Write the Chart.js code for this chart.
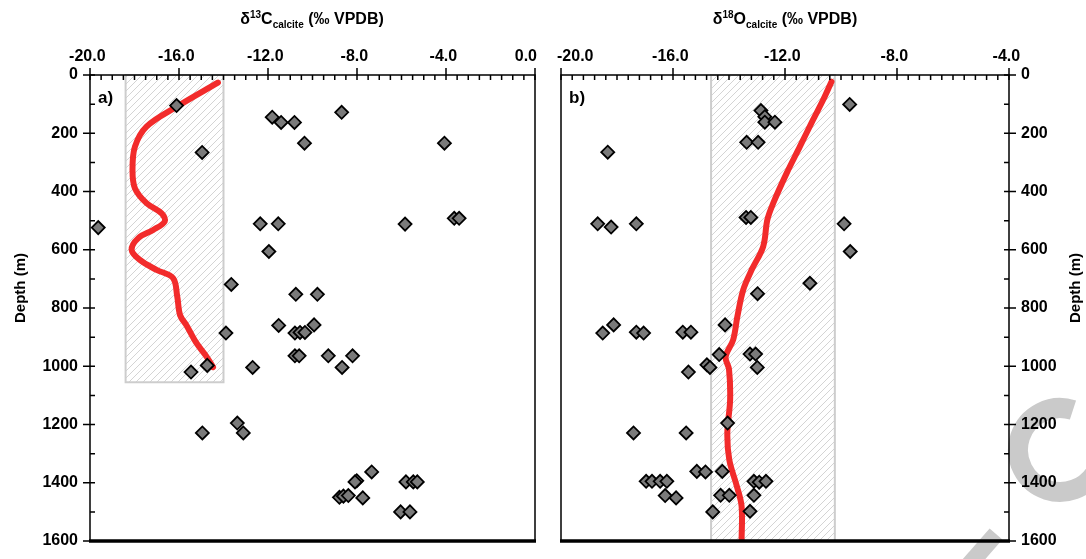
<!DOCTYPE html>
<html>
<head>
<meta charset="utf-8">
<script src="https://cdn.jsdelivr.net/npm/chart.js@4.4.1/dist/chart.umd.min.js"></script>
<style>
  body { margin: 0; background: #fff; width: 1086px; height: 559px; overflow: hidden; position: relative;
         font-family: "Liberation Sans", Arial, sans-serif; }
  canvas { position: absolute; top: 0; }
  .ttl { position: absolute; font-weight: bold; font-size: 16px; line-height: 16px; text-align: center; white-space: nowrap; color: #000; }
  .ttl sup, .ttl sub { font-size: 10px; line-height: 0; }
  .ttl sub { vertical-align: -4px; }
  .ytl { transform: rotate(-90deg); transform-origin: 50% 50%; font-size: 15px; }
</style>
</head>
<body>
<canvas id="chartC" width="548" height="559" style="left:0"></canvas>
<canvas id="chartO" width="538" height="559" style="left:548px"></canvas>
<div class="ttl" style="left:212px; top:11px; width:200px">δ<sup>13</sup>C<sub>calcite</sub> (‰ VPDB)</div>
<div class="ttl" style="left:685px; top:11px; width:200px">δ<sup>18</sup>O<sub>calcite</sub> (‰ VPDB)</div>
<div class="ttl ytl" style="left:-40px; top:280px; width:120px">Depth (m)</div>
<div class="ttl ytl" style="left:1015px; top:280px; width:120px">Depth (m)</div>
<script>
// panel a) - d13C of calcite vs depth
const c13Values = [-16.11, -8.69, -11.81, -11.41, -10.81, -10.36, -4.07, -14.96, -19.63, -12.35,
                   -11.54, -5.84, -3.63, -3.41, -11.96, -13.65, -10.75, -9.78, -11.52, -13.89,
                   -10.79, -10.56, -10.34, -9.93, -10.79, -10.6, -9.29, -8.2, -8.67, -12.69,
                   -14.73, -15.46, -13.38, -13.11, -14.95, -7.34, -8.01, -8.09, -5.8, -5.47,
                   -5.29, -8.79, -8.61, -8.39, -7.74, -6.04, -5.62];
const c13Depths = [105, 128, 145, 163, 163, 234, 234, 266, 524, 511,
                   511, 512, 492, 492, 606, 719, 753, 753, 860, 886,
                   886, 884, 884, 858, 964, 964, 964, 964, 1004, 1004,
                   997, 1020, 1195, 1229, 1229, 1363, 1393, 1397, 1397, 1397,
                   1397, 1450, 1446, 1444, 1452, 1500, 1500];
const c13TrendValues = [-14.25, -16.11, -17.46, -17.98, -18.09, -17.98, -17.46, -16.78, -16.64, -17.16,
                        -17.83, -18.13, -17.76, -17.01, -16.27, -16.08, -15.95, -15.66, -15.22, -14.77, -14.47];
const c13TrendDepths = [26, 109, 177, 246, 326, 389, 440, 475, 503, 532,
                        560, 600, 635, 669, 697, 760, 825, 860, 920, 966, 1003];
const c13Band = [-18.4, -14.0];
const c13BandDepth = [0, 1055];
const c13Ticks = [-20, -16, -12, -8, -4, 0];

// panel b) - d18O of calcite vs depth
const o18Values = [-9.69, -12.86, -12.72, -12.72, -12.36, -13.37, -12.96, -18.33, -18.69, -18.21,
                   -17.31, -13.39, -13.22, -9.89, -9.67, -11.11, -12.98, -18.12, -18.51, -17.31,
                   -17.05, -15.65, -15.36, -14.14, -14.35, -13.25, -13.05, -12.99, -14.79, -14.68,
                   -15.45, -17.41, -15.53, -14.05, -15.15, -14.84, -14.24, -16.96, -16.75, -16.46,
                   -16.22, -13.11, -12.92, -12.68, -16.28, -15.89, -14.3, -13.99, -13.11, -14.58, -13.25];
const o18Depths = [101, 122, 143, 162, 162, 231, 231, 265, 511, 522,
                   511, 489, 489, 511, 606, 715, 751, 858, 886, 883,
                   886, 883, 883, 858, 960, 958, 958, 1004, 995, 1004,
                   1020, 1229, 1229, 1195, 1361, 1363, 1361, 1395, 1395, 1395,
                   1395, 1395, 1398, 1395, 1444, 1452, 1443, 1443, 1443, 1500, 1498];
const o18TrendValues = [-10.34, -10.64, -11.0, -11.47, -11.94, -12.42, -12.63, -12.78, -13.19, -13.49,
                        -13.7, -13.85, -14.12, -14.0, -13.96, -14.06, -13.99, -13.72, -13.55, -13.55];
const o18TrendDepths = [23, 86, 154, 246, 337, 440, 497, 589, 669, 737,
                        829, 909, 968, 1010, 1115, 1229, 1321, 1412, 1481, 1600];
const o18Band = [-14.64, -10.22];
const o18BandDepth = [0, 1600];
const o18Ticks = [-20, -16, -12, -8, -4];

const depthTicks = [0, 200, 400, 600, 800, 1000, 1200, 1400, 1600];

const FONT = '"Liberation Sans", Arial, sans-serif';
const toPoints = (xs, ys) => xs.map((x, i) => ({ x: x, y: ys[i] }));

function hatchPattern(ctx) {
    const tile = document.createElement('canvas');
    tile.width = 7;
    tile.height = 7;
    const t = tile.getContext('2d');
    t.strokeStyle = '#d4d4d4';
    t.lineWidth = 1;
    t.beginPath();
    t.moveTo(0, 7); t.lineTo(7, 0);
    t.moveTo(-1, 1); t.lineTo(1, -1);
    t.moveTo(6, 8); t.lineTo(8, 6);
    t.stroke();
    return ctx.createPattern(tile, 'repeat');
}

// band, frame, tick marks, x labels and panel letter
const panelPlugin = {
    id: 'panel',
    beforeDatasetsDraw(chart, args, o) {
        const { ctx, scales: { x, y } } = chart;
        const x1 = x.getPixelForValue(o.band[0]), x2 = x.getPixelForValue(o.band[1]);
        const y1 = y.getPixelForValue(o.bandDepth[0]), y2 = y.getPixelForValue(o.bandDepth[1]);
        ctx.save();
        ctx.fillStyle = hatchPattern(ctx);
        ctx.fillRect(x1, y1, x2 - x1, y2 - y1);
        ctx.strokeStyle = '#cdcdcd';
        ctx.lineWidth = 2;
        ctx.strokeRect(x1, y1, x2 - x1, y2 - y1);
        ctx.restore();
    },
    afterDatasetsDraw(chart, args, o) {
        const { ctx, chartArea: a, scales: { x, y } } = chart;
        ctx.save();
        ctx.strokeStyle = '#000';
        ctx.lineWidth = 1.5;
        ctx.beginPath();
        ctx.moveTo(a.left, a.bottom); ctx.lineTo(a.left, a.top);
        ctx.lineTo(a.right, a.top); ctx.lineTo(a.right, a.bottom);
        ctx.stroke();
        ctx.lineWidth = 3.5;
        ctx.beginPath();
        ctx.moveTo(a.left - 1, a.bottom); ctx.lineTo(a.right + 1, a.bottom);
        ctx.stroke();

        // tick marks
        ctx.lineWidth = 1.5;
        ctx.beginPath();
        const n = Math.round((x.max - x.min) / o.minorStep);
        for (let i = 0; i <= n; i++) {
            const v = x.min + i * o.minorStep;
            const px = x.getPixelForValue(v);
            const major = o.xTicks.some(t => Math.abs(t - v) < 1e-6);
            ctx.moveTo(px, major ? a.top - 7 : a.top);
            ctx.lineTo(px, a.top + 5);
        }
        const ax = o.side === 'left' ? a.left : a.right;
        const dir = o.side === 'left' ? 1 : -1;
        for (let d = 0; d <= 1600; d += 100) {
            const py = y.getPixelForValue(d);
            const major = d % 200 === 0;
            ctx.moveTo(major ? ax - 7 * dir : ax, py);
            ctx.lineTo(ax + 5 * dir, py);
        }
        ctx.stroke();

        // x labels: number centred on the tick, minus sign hangs to the left
        ctx.font = 'bold 16px ' + FONT;
        ctx.fillStyle = '#000';
        ctx.textBaseline = 'alphabetic';
        o.xTicks.forEach((v, i) => {
            const txt = v.toFixed(1);
            const px = x.getPixelForValue(v);
            if (i === 0 && o.firstLeft) {
                ctx.textAlign = 'left';
                ctx.fillText(txt, px - 4, 61);
            } else if (i === o.xTicks.length - 1 && o.lastRight) {
                ctx.textAlign = 'right';
                ctx.fillText(txt, px + 2, 61);
            } else {
                const w = ctx.measureText(txt.replace('-', '')).width;
                ctx.textAlign = 'right';
                ctx.fillText(txt, px + w / 2, 61);
            }
        });

        ctx.textAlign = 'left';
        ctx.font = 'bold 17px ' + FONT;
        ctx.fillText(o.panel, a.left + 8, a.top + 28);
        ctx.restore();
    }
};

// grey watermark behind panel b)
const watermarkPlugin = {
    id: 'watermark',
    beforeDraw(chart) {
        const ctx = chart.ctx;
        ctx.save();
        ctx.strokeStyle = '#cacaca';
        ctx.lineWidth = 20;
        ctx.beginPath();
        ctx.arc(1060 - 548, 450, 42, -72 * Math.PI / 180, 32 * Math.PI / 180, true);
        ctx.stroke();
        ctx.lineWidth = 17;
        ctx.beginPath();
        ctx.moveTo(968 - 548, 566);
        ctx.lineTo(996 - 548, 534);
        ctx.stroke();
        ctx.restore();
    }
};

function makePanel(id, cfg) {
    return new Chart(document.getElementById(id), {
        type: 'scatter',
        data: {
            datasets: [
                {
                    label: 'samples',
                    data: toPoints(cfg.values, cfg.depths),
                    pointStyle: 'rectRot',
                    pointRadius: 6.5,
                    backgroundColor: '#7a7a7a',
                    borderColor: '#000',
                    borderWidth: 1.8,
                    order: 0
                },
                {
                    label: 'trend',
                    data: toPoints(cfg.trendValues, cfg.trendDepths),
                    showLine: true,
                    pointRadius: 0,
                    borderColor: '#f22b2b',
                    borderWidth: 6,
                    borderCapStyle: 'round',
                    borderJoinStyle: 'round',
                    tension: 0.35,
                    order: 1
                }
            ]
        },
        options: {
            responsive: false,
            animation: false,
            events: [],
            layout: { padding: cfg.padding },
            plugins: {
                legend: { display: false },
                tooltip: { enabled: false },
                panel: {
                    band: cfg.band, bandDepth: cfg.bandDepth, xTicks: cfg.xTicks,
                    minorStep: cfg.minorStep, side: cfg.side, panel: cfg.panel,
                    firstLeft: cfg.firstLeft, lastRight: cfg.lastRight
                }
            },
            scales: {
                x: {
                    type: 'linear',
                    position: 'top',
                    min: cfg.xTicks[0],
                    max: cfg.xTicks[cfg.xTicks.length - 1],
                    afterBuildTicks: s => { s.ticks = cfg.xTicks.map(v => ({ value: v })); },
                    ticks: { display: false },
                    grid: { display: false, drawTicks: false },
                    border: { display: false },
                    afterFit: s => { s.height = 75; s.paddingLeft = 0; s.paddingRight = 0; }
                },
                y: {
                    type: 'linear',
                    position: cfg.side,
                    reverse: true,
                    min: 0,
                    max: 1600,
                    afterBuildTicks: s => { s.ticks = depthTicks.map(v => ({ value: v })); },
                    ticks: {
                        padding: 12,
                        color: '#000',
                        autoSkip: false,
                        font: { family: FONT, size: 16, weight: 'bold' },
                        callback: v => String(v)
                    },
                    grid: { display: false, drawTicks: false },
                    border: { display: false },
                    afterFit: s => { s.width = cfg.yWidth; s.paddingTop = 0; s.paddingBottom = 0; }
                }
            }
        },
        plugins: cfg.extra ? [panelPlugin, cfg.extra] : [panelPlugin]
    });
}

makePanel('chartC', {
    values: c13Values, depths: c13Depths,
    trendValues: c13TrendValues, trendDepths: c13TrendDepths,
    band: c13Band, bandDepth: c13BandDepth, xTicks: c13Ticks,
    minorStep: 0.5, side: 'left', panel: 'a)', yWidth: 90,
    padding: { right: 13, bottom: 18 }, lastRight: true
});

makePanel('chartO', {
    values: o18Values, depths: o18Depths,
    trendValues: o18TrendValues, trendDepths: o18TrendDepths,
    band: o18Band, bandDepth: o18BandDepth, xTicks: o18Ticks,
    minorStep: 0.4, side: 'right', panel: 'b)', yWidth: 77,
    padding: { left: 13, bottom: 18 }, firstLeft: true, extra: watermarkPlugin
});
</script>
</body>
</html>
